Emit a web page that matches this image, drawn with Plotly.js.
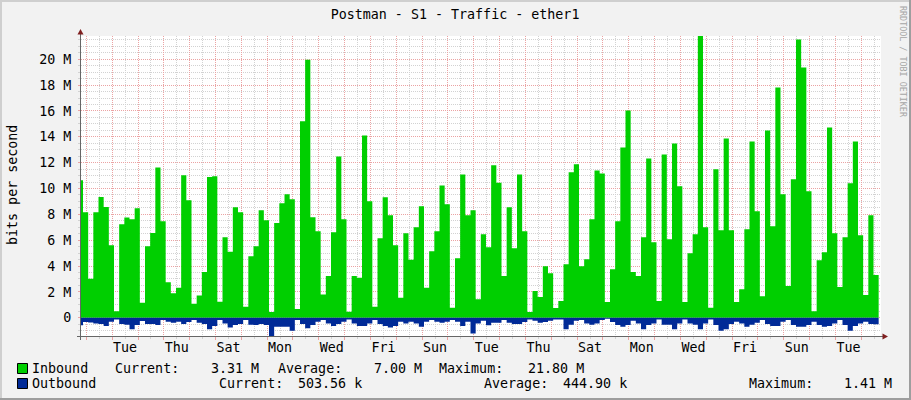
<!DOCTYPE html>
<html>
<head>
<meta charset="utf-8">
<script src="https://cdn.plot.ly/plotly-3.0.1.min.js"></script>
<style>
html,body{margin:0;padding:0;background:#F2F2F2;}
#chart{width:911px;height:400px;}
</style>
</head>
<body>
<div id="chart"></div>
<script>
// ---------------- data ----------------
const stepDays = 0.2;          // one consolidated sample = 4.8 h
const firstEdgeDay = 0.0774;   // end of the first (partial) sample, days from graph start
const spanDays = 30.968;       // time span of the graph, days
const mondayOffset = 0.2063;   // first Monday 00:00, days from graph start

// Inbound traffic, Mbit/s, one value per sample
const inboundM = [
 10.63, 8.16, 3.01, 8.16, 9.34, 8.57, 5.61, 0.51, 7.23, 7.75,
 7.62, 8.47, 1.16, 5.53, 6.56, 11.63, 7.46, 2.75, 1.90, 2.32,
 11.02, 9.09, 1.08, 1.72, 3.53, 10.89, 10.94, 1.24, 6.23, 5.10,
 8.55, 8.16, 0.85, 4.76, 5.53, 8.31, 7.54, 0.44, 7.34, 8.85,
 9.55, 9.16, 0.67, 15.20, 19.97, 7.77, 6.69, 1.80, 3.22, 6.62,
 12.48, 7.62, 0.46, 3.22, 3.09, 14.10, 9.01, 0.85, 6.15, 9.32,
 7.93, 5.61, 1.54, 6.54, 4.48, 7.00, 8.62, 2.32, 5.15, 6.69,
 10.24, 8.78, 0.77, 4.61, 11.09, 7.93, 8.31, 1.44, 6.46, 5.46,
 11.79, 10.45, 3.22, 8.55, 5.38, 11.09, 6.69, 0.44, 2.06, 1.60,
 3.99, 3.45, 0.75, 1.29, 4.14, 11.25, 11.87, 3.99, 4.53, 7.62,
 11.40, 11.17, 1.21, 3.76, 7.46, 13.18, 16.04, 3.53, 3.22, 6.23,
 12.33, 5.84, 1.29, 12.64, 6.07, 13.49, 10.17, 1.21, 4.99, 6.46,
 21.80, 7.00, 0.77, 11.48, 6.77, 13.87, 6.77, 1.21, 2.21, 6.85,
 13.64, 8.24, 1.67, 14.49, 7.08, 17.81, 9.55, 2.45, 10.71, 21.52,
 19.36, 9.78, 0.51, 4.45, 5.07, 14.72, 6.54, 2.37, 6.23, 10.40,
 13.64, 6.38, 1.75, 7.93, 3.31
];

// Outbound traffic, Mbit/s (drawn below zero)
const outboundM = [
 0.59, 0.33, 0.36, 0.44, 0.49, 0.64, 0.31, 0.13, 0.49, 0.54,
 0.90, 0.57, 0.26, 0.49, 0.49, 0.57, 0.18, 0.31, 0.39, 0.31,
 0.49, 0.33, 0.18, 0.39, 0.49, 0.90, 0.64, 0.18, 0.44, 0.75,
 0.57, 0.49, 0.18, 0.54, 0.57, 0.49, 0.57, 1.41, 0.69, 0.69,
 0.69, 1.00, 0.18, 0.49, 0.82, 0.57, 0.31, 0.18, 0.44, 0.64,
 0.49, 0.31, 0.13, 0.44, 0.64, 0.64, 0.44, 0.18, 0.49, 0.64,
 0.75, 0.64, 0.31, 0.44, 0.31, 0.44, 0.69, 0.31, 0.18, 0.31,
 0.39, 0.31, 0.18, 0.31, 0.64, 0.31, 1.21, 0.44, 0.23, 0.59,
 0.39, 0.39, 0.18, 0.39, 0.49, 0.49, 0.33, 0.13, 0.23, 0.39,
 0.33, 0.23, 0.13, 0.13, 0.90, 0.54, 0.23, 0.18, 0.44, 0.54,
 0.44, 0.18, 0.08, 0.33, 0.57, 0.69, 0.57, 0.23, 0.44, 0.90,
 0.57, 0.44, 0.13, 0.54, 0.54, 0.90, 0.44, 0.13, 0.44, 0.54,
 0.90, 0.44, 0.13, 0.57, 1.00, 0.90, 0.49, 0.31, 0.44, 0.69,
 0.54, 0.39, 0.18, 0.49, 0.64, 0.64, 0.31, 0.18, 0.57, 0.69,
 0.69, 0.57, 0.31, 0.57, 0.69, 0.64, 0.44, 0.18, 0.57, 1.00,
 0.64, 0.44, 0.31, 0.49, 0.50
];

const dayLabels = ['Tue','Thu','Sat','Mon','Wed','Fri','Sun','Tue','Thu','Sat','Mon','Wed','Fri','Sun','Tue'];
const dayLabelDays = [1,3,5,7,9,11,13,15,17,19,21,23,25,27,29]; // days after first Monday
const yTickVals = [0,2,4,6,8,10,12,14,16,18,20];
const yTickText = ['0','2 M','4 M','6 M','8 M','10 M','12 M','14 M','16 M','18 M','20 M'];
const yMin = -1.413, yMax = 21.8;

const legendNames = ['Inbound','Outbound'];
const legendColors = ['#00CF00','#002A97'];
const statLabels = ['Current:','Average:','Maximum:'];
const inboundStats = ['3.31 M','7.00 M','21.80 M'];
const outboundStats = ['503.56 k','444.90 k','1.41 M'];

// ---------------- build ----------------
const xs = inboundM.map((v,i) => i === 0 ? 0 : firstEdgeDay + (i-1)*stepDays);
xs.push(firstEdgeDay + (inboundM.length-1)*stepDays);
const inY = inboundM.concat([inboundM[inboundM.length-1]]);
const outY = outboundM.map(v => -v).concat([-outboundM[outboundM.length-1]]);
const labelPos = dayLabelDays.map(d => mondayOffset + d + 0.5);

// pixel -> paper helpers (layout only)
const PL = 81, PT = 36, PW = 800, PH = 300;
const px = x => (x - PL) / PW;
const py = y => (PT + PH - y) / PH;

const FONT = 'DejaVu Sans Mono, monospace';
const FS = 13.33;
const RED = '#EBA3A3', GRAY = '#D2D2D2';

const traces = [
  {type:'scatter', mode:'lines', x:xs, y:inY, xaxis:'x', yaxis:'y',
   line:{shape:'hv', width:0, color:legendColors[0]},
   fill:'tozeroy', fillcolor:legendColors[0], hoverinfo:'skip', name:legendNames[0]},
  {type:'scatter', mode:'lines', x:xs, y:outY, xaxis:'x2', yaxis:'y',
   line:{shape:'hv', width:0, color:legendColors[1]},
   fill:'tozeroy', fillcolor:legendColors[1], hoverinfo:'skip', name:legendNames[1]}
];

function txt(t, xpx, ypx, opts) {
  return Object.assign({text:t, xref:'paper', yref:'paper', x:px(xpx), y:py(ypx),
    xanchor:'left', yanchor:'middle', showarrow:false, borderpad:0, borderwidth:0,
    font:{family:FONT, size:FS, color:'#000'}}, opts || {});
}

const row1 = 368.7, row2 = 383.7;
const annotations = [
  txt('bits per second', 12.5, 185.5, {xanchor:'center', textangle:-90}),
  txt('RRDTOOL / TOBI OETIKER', 902.5, 61.5, {xanchor:'center', textangle:90,
      font:{family:FONT, size:8.4, color:'#A6A6A6'}}),
  txt(legendNames[0], 32, row1),
  txt(statLabels[0], 115.2, row1),
  txt(inboundStats[0], 211.1, row1),
  txt(statLabels[1], 277.9, row1),
  txt(inboundStats[1], 373.8, row1),
  txt(statLabels[2], 439.4, row1),
  txt(inboundStats[2], 527.8, row1),
  txt(legendNames[1], 32, row2),
  txt(statLabels[0], 218.6, row2),
  txt(outboundStats[0], 298.2, row2),
  txt(statLabels[1], 484.2, row2),
  txt(outboundStats[1], 562.6, row2),
  txt(statLabels[2], 748.6, row2),
  txt(outboundStats[2], 844.4, row2)
];

function rect(x0,y0,x1,y1,fill,line){
  return {type:'rect', xref:'paper', yref:'paper', x0:px(x0), x1:px(x1), y0:py(y0), y1:py(y1),
          fillcolor:fill, line: line || {width:0}, layer:'above'};
}
function path(pts, fill){
  const d = pts.map((p,i)=> (i?'L':'M') + px(p[0]) + ',' + py(p[1])).join(' ') + ' Z';
  return {type:'path', xref:'paper', yref:'paper', path:d, fillcolor:fill, line:{width:0}, layer:'above'};
}
function seg(x0,y0,x1,y1,color){
  return {type:'line', xref:'paper', yref:'paper', x0:px(x0), x1:px(x1), y0:py(y0), y1:py(y1),
          line:{color:color, width:1}, layer:'above'};
}

const shapes = [
  // frame
  rect(0,0,911,2,'#CFCFCF'), rect(0,0,2,400,'#CFCFCF'),
  rect(0,398,911,400,'#9E9E9E'), rect(909,0,911,400,'#9E9E9E'),
  // axes
  seg(80.5,340,80.5,33,'#666666'),
  seg(77,336.5,883,336.5,'#666666'),
  // arrows
  path([[80.5,29],[77.5,34.5],[83.5,34.5]], '#7F1F1F'),
  path([[888,336.5],[882.5,333.5],[882.5,339.5]], '#7F1F1F'),
  // legend boxes
  rect(17.5,363.5,27.5,373.5,legendColors[0],{color:'#000',width:1}),
  rect(17.5,378.5,27.5,388.5,legendColors[1],{color:'#000',width:1})
];

const layout = {
  width:911, height:400,
  margin:{l:81, r:30, t:36, b:64, pad:0},
  paper_bgcolor:'#F2F2F2', plot_bgcolor:'#FFFFFF',
  showlegend:false,
  font:{family:FONT, size:FS, color:'#000'},
  title:{text:'Postman - S1 - Traffic - ether1', xref:'container', yref:'container',
         x:0.4995, y:1-14.7/400, xanchor:'center', yanchor:'middle',
         font:{family:FONT, size:FS, color:'#000'}},
  xaxis:{range:[0, spanDays], tickmode:'linear', tick0:mondayOffset, dtick:1,
         showticklabels:false, showgrid:true, gridcolor:RED, gridwidth:1, griddash:'1px,1px',
         ticks:'outside', ticklen:3, tickcolor:RED, tickwidth:1,
         minor:{tickmode:'linear', tick0:mondayOffset, dtick:0.5, showgrid:true, gridcolor:GRAY,
                gridwidth:1, griddash:'1px,1px', ticks:'outside', ticklen:2, tickcolor:GRAY},
         zeroline:false, showline:false, fixedrange:true},
  xaxis2:{overlaying:'x', anchor:'y', side:'bottom', range:[0, spanDays], tickmode:'array',
          tickvals:labelPos, ticktext:dayLabels, showgrid:false, zeroline:false, showline:false,
          ticks:'', ticklabelstandoff:2, tickfont:{family:FONT, size:FS, color:'#000'}, fixedrange:true},
  yaxis:{range:[yMin, yMax], tickmode:'array', tickvals:yTickVals, ticktext:yTickText,
         showgrid:true, gridcolor:RED, gridwidth:1, griddash:'1px,1px',
         ticks:'outside', ticklen:2, tickcolor:RED,
         minor:{tickmode:'linear', tick0:0, dtick:0.5, showgrid:true, gridcolor:GRAY, gridwidth:1,
                griddash:'1px,1px', ticks:'outside', ticklen:2, tickcolor:GRAY},
         zeroline:false, showline:false, ticklabelstandoff:4,
         tickfont:{family:FONT, size:FS, color:'#000'}, fixedrange:true},
  annotations:annotations,
  shapes:shapes
};

Plotly.newPlot('chart', traces, layout, {staticPlot:true, displayModeBar:false});
</script>
</body>
</html>
